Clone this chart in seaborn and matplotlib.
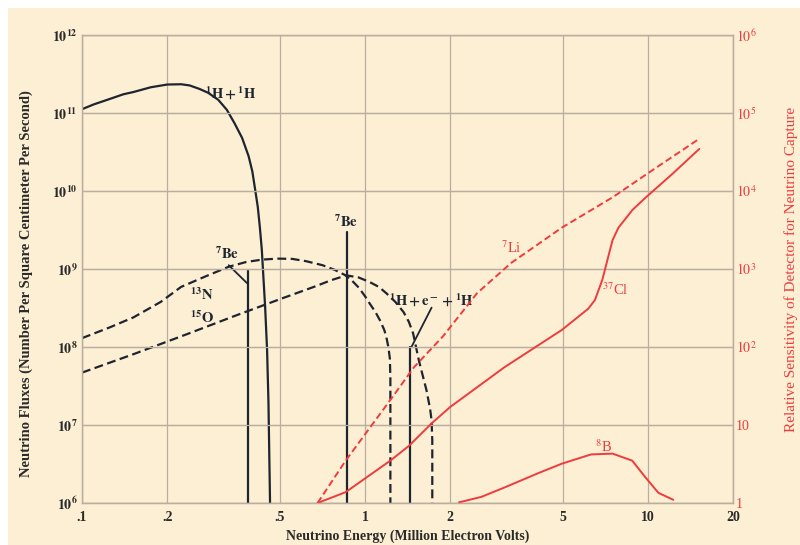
import numpy as np
import pandas as pd
import matplotlib.pyplot as plt
import matplotlib.patches as mpatches
import seaborn as sns


# solar neutrino fluxes (left axis), energies in MeV
pp_energy = [0.10, 0.11, 0.125, 0.14, 0.152, 0.175, 0.20, 0.224, 0.24, 0.26,
             0.279, 0.303, 0.325, 0.346, 0.368, 0.388, 0.40, 0.408, 0.418,
             0.425, 0.432, 0.436, 0.444, 0.451, 0.456, 0.462]
pp_flux = [1.12e11, 1.29e11, 1.51e11, 1.74e11, 1.86e11, 2.14e11, 2.32e11,
           2.34e11, 2.26e11, 2.04e11, 1.82e11, 1.48e11, 1.10e11, 7.4e10,
           4.8e10, 2.8e10, 1.78e10, 1.12e10, 6.3e9, 3.5e9, 1.78e9, 1.0e9,
           3.2e8, 9.1e7, 2.0e7, 1.0e6]

n13_energy = [0.10, 0.125, 0.152, 0.19, 0.224, 0.27, 0.33, 0.38, 0.432, 0.49,
              0.553, 0.62, 0.708, 0.78, 0.855, 0.90, 0.95, 1.00, 1.04, 1.09,
              1.13, 1.17, 1.19, 1.21, 1.225, 1.23, 1.23]
n13_flux = [1.30e8, 1.78e8, 2.4e8, 3.8e8, 5.9e8, 7.9e8, 1.07e9, 1.23e9,
            1.32e9, 1.36e9, 1.35e9, 1.26e9, 1.12e9, 9.8e8, 8.3e8, 7.1e8,
            5.8e8, 4.5e8, 3.6e8, 2.8e8, 2.2e8, 1.66e8, 1.35e8, 1.0e8, 7.1e7,
            4.0e7, 1.0e6]

o15_energy = [0.10, 0.152, 0.237, 0.346, 0.509, 0.668, 0.76, 0.86, 0.95,
              1.04, 1.12, 1.19, 1.28, 1.37, 1.43, 1.48, 1.55, 1.65, 1.70,
              1.72, 1.73, 1.73]
o15_flux = [4.7e7, 8.1e7, 1.48e8, 2.5e8, 4.2e8, 6.0e8, 7.2e8, 8.3e8, 7.8e8,
            6.8e8, 5.9e8, 4.9e8, 3.8e8, 2.8e8, 2.1e8, 1.5e8, 6.8e7, 2.8e7,
            1.6e7, 1.15e7, 6.3e6, 1.0e6]

# line sources
be7_energy = [0.385, 0.861]
be7_flux = [9.3e8, 2.95e9]
pep_energy = 1.44
pep_flux = 1.0e8

# detector sensitivity (right axis)
li7_energy = [0.68, 0.855, 1.23, 1.49, 1.89, 2.49, 3.29, 4.97, 7.5, 10.4, 15.2]
li7_sens = [1.0, 3.5, 21, 55, 138, 490, 1200, 3400, 8300, 18600, 46800]

cl37_energy = [0.68, 0.855, 1.23, 1.43, 1.72, 2.0, 3.11, 4.97, 6.15, 6.5,
               6.9, 7.2, 7.5, 7.87, 8.83, 9.84, 12.3, 15.2]
cl37_sens = [1.0, 1.38, 3.5, 5.4, 10.5, 17, 55, 166, 309, 400, 724, 1320,
             2340, 3390, 5750, 8300, 17000, 34700]

b8_energy = [2.15, 2.58, 3.11, 4.08, 4.97, 6.3, 7.5, 8.8, 9.84, 10.9, 12.3]
b8_sens = [1.02, 1.2, 1.58, 2.4, 3.2, 4.2, 4.3, 3.5, 2.1, 1.35, 1.1]

x_ticks = [0.1, 0.2, 0.5, 1, 2, 5, 10, 20]
x_tick_labels = [".1", ".2", ".5", "1", "2", "5", "10", "20"]
left_ticks = [1e6, 1e7, 1e8, 1e9, 1e10, 1e11, 1e12]
left_tick_labels = [r"$\mathbf{10^{%d}}$" % k for k in range(6, 13)]
right_ticks = [1, 10, 1e2, 1e3, 1e4, 1e5, 1e6]
right_tick_labels = ["1", "10", "$10^{2}$", "$10^{3}$", "$10^{4}$",
                     "$10^{5}$", "$10^{6}$"]

CREAM = "#fcefd3"
INK = "#1e2430"
RED = "#ef3b3e"
GRID = "#b9ae9f"

sns.set_theme(style="white")
plt.rcParams["font.family"] = ["Liberation Serif", "DejaVu Serif"]
plt.rcParams["mathtext.fontset"] = "stix"

fig = plt.figure(figsize=(8, 5.45), dpi=100, facecolor="white")
fig.patches.append(mpatches.Rectangle((0.01, 0), 0.99, 0.985, transform=fig.transFigure,
                                      facecolor=CREAM, edgecolor="none", zorder=-10))
ax = fig.add_axes([0.1025, 0.077, 0.8138, 0.8587])
ax.patch.set_visible(False)
ax2 = ax.twinx()

dash = (0, (4, 2))
rdash = (0, (3.5, 1.8))

sns.lineplot(x=pp_energy, y=pp_flux, ax=ax, color=INK, lw=1.6, sort=False, estimator=None)
sns.lineplot(x=n13_energy, y=n13_flux, ax=ax, color=INK, lw=1.6, sort=False,
             estimator=None, linestyle=dash)
sns.lineplot(x=o15_energy, y=o15_flux, ax=ax, color=INK, lw=1.6, sort=False,
             estimator=None, linestyle=dash)
for e, f in zip(be7_energy, be7_flux):
    sns.lineplot(x=[e, e], y=[f, 1e6], ax=ax, color=INK, lw=1.6, sort=False, estimator=None)
sns.lineplot(x=[pep_energy, pep_energy], y=[pep_flux, 1e6], ax=ax, color=INK, lw=1.6,
             sort=False, estimator=None)

sns.lineplot(x=li7_energy, y=li7_sens, ax=ax2, color=RED, lw=1.4, sort=False,
             estimator=None, linestyle=rdash)
sns.lineplot(x=cl37_energy, y=cl37_sens, ax=ax2, color=RED, lw=1.4, sort=False, estimator=None)
sns.lineplot(x=b8_energy, y=b8_sens, ax=ax2, color=RED, lw=1.4, sort=False, estimator=None)

for a in (ax, ax2):
    a.set_xscale("log")
    a.set_yscale("log")
    a.set_xlim(0.1, 20)
    for s in a.spines.values():
        s.set_color(GRID)
        s.set_linewidth(0.9)
ax.set_ylim(1e6, 1e12)
ax2.set_ylim(1, 1e6)

ax.set_xticks(x_ticks, x_tick_labels)
ax.set_yticks(left_ticks, left_tick_labels)
ax2.set_yticks(right_ticks, right_tick_labels)
ax.minorticks_off()
ax2.minorticks_off()
ax.grid(True, color=GRID, lw=0.9)
ax2.grid(True, axis="y", color=GRID, lw=0.9)
ax.tick_params(length=0, pad=6, labelsize=10, labelcolor="#2a2a2a")
ax.tick_params(axis="y", pad=3)
for t in ax.get_xticklabels():
    t.set_fontweight("bold")
ax2.tick_params(length=0, pad=2, labelsize=10, labelcolor=RED)

ax.set_xlabel("Neutrino Energy (Million Electron Volts)", fontsize=10,
              fontweight="bold", color="#2a2a2a", labelpad=4)
ax.set_ylabel("Neutrino Fluxes (Number Per Square Centimeter Per Second)", fontsize=10.5,
              fontweight="bold", color="#2a2a2a")
ax.yaxis.set_label_coords(-0.076, 0.468)
ax2.set_ylabel("Relative Sensitivity of Detector for Neutrino Capture", fontsize=11,
               color=RED, rotation=90)
ax2.yaxis.set_label_coords(1.078, 0.5)

# curve labels and leaders
lab = dict(fontsize=10.5, color=INK, ha="center", va="center")
ax.text(0.335, 1.8e11, r"$\mathbf{^1H + {}^1H}$", **lab)
ax.text(0.325, 1.55e9, r"$\mathbf{^7Be}$", **lab)
ax.text(0.86, 4.0e9, r"$\mathbf{^7Be}$", **lab)
ax.text(0.266, 4.7e8, r"$\mathbf{^{13}N}$", **lab)
ax.text(0.266, 2.35e8, r"$\mathbf{^{15}O}$", **lab)
ax.text(1.72, 4.0e8, r"$\mathbf{^1H + e^- + {}^1H}$", **lab)
leader = dict(arrowstyle="-", lw=1.3, color=INK, shrinkA=0, shrinkB=0)
ax.annotate("", xy=(0.383, 6.6e8), xytext=(0.33, 1.12e9), arrowprops=leader)
ax.annotate("", xy=(1.46, 1.0e8), xytext=(1.72, 3.2e8), arrowprops=leader)

rlab = dict(fontsize=10.5, color=RED, ha="center", va="center")
ax2.text(3.3, 1860, "$^7$Li", **rlab)
ax2.text(7.7, 537, "$^{37}$Cl", **rlab)
ax2.text(6.96, 5.25, "$^8$B", **rlab)

fig.savefig("out.png", dpi=100, facecolor=fig.get_facecolor())
